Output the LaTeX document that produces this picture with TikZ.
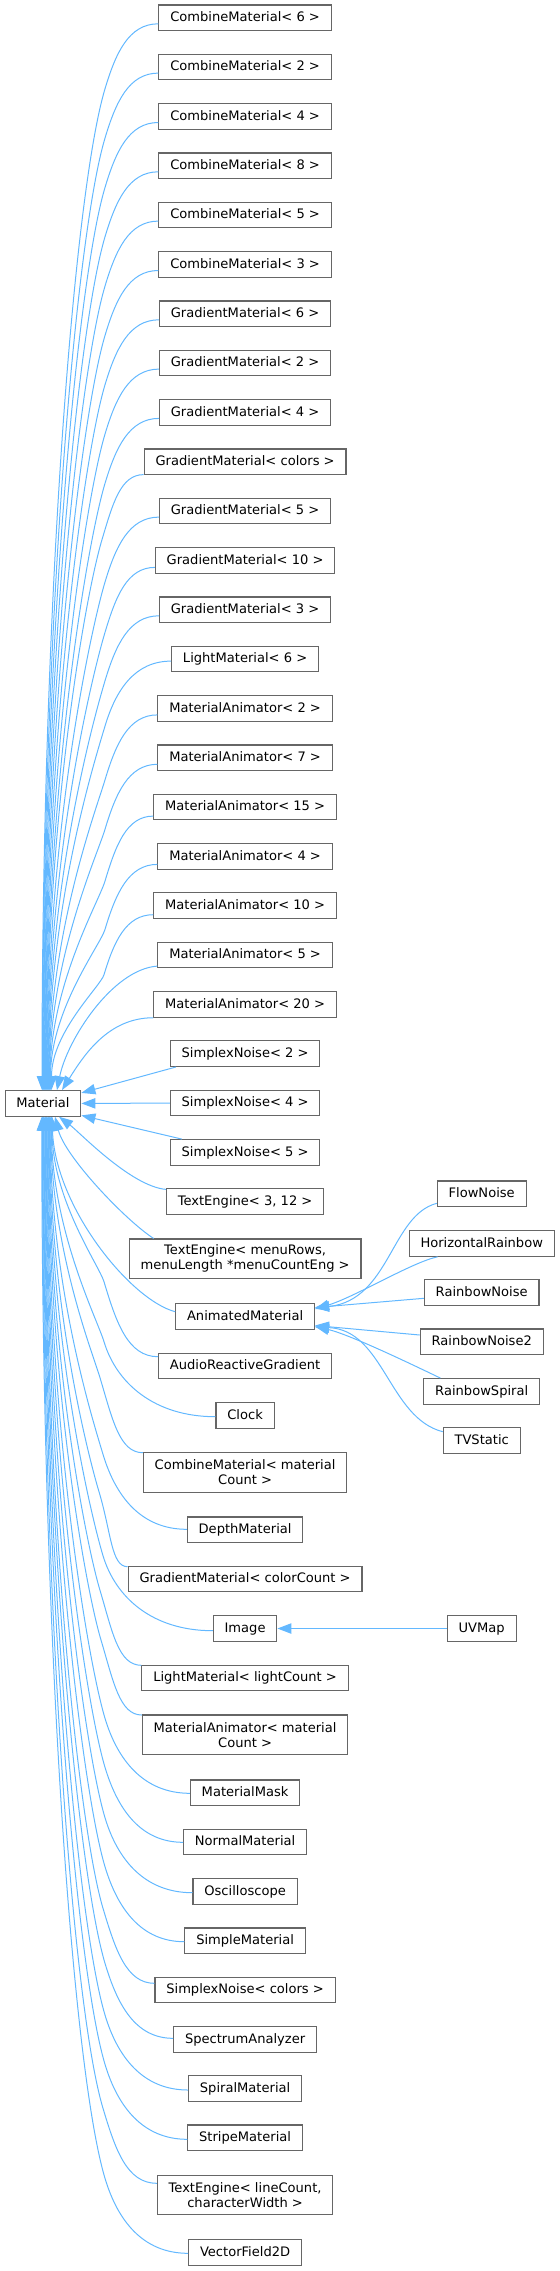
\documentclass[tikz,border=0pt]{standalone}
\usepackage{fontspec}
\newfontfamily\dejavu{DejaVu Sans}
\usetikzlibrary{arrows.meta,calc}
\definecolor{edgeblue}{HTML}{63B8FF}
\definecolor{boxgray}{HTML}{666666}
\tikzset{
  cls/.style={draw=boxgray, fill=white, line width=0.8pt, font={\dejavu\fontsize{9.8pt}{11.25pt}\selectfont},
    inner xsep=8.5pt, inner ysep=0pt, minimum height=19.2pt, text height=7.4pt, text depth=1.9pt},
  clstwo/.style={draw=boxgray, fill=white, line width=0.8pt, font={\dejavu\fontsize{9.8pt}{11.25pt}\selectfont},
    inner xsep=8.5pt, inner ysep=0pt, minimum height=29.7pt, align=center},
  edge/.style={draw=edgeblue, line width=0.75pt, {Triangle[length=10.5pt,width=7.8pt,fill=edgeblue]}-}
}
% #1 child, #2 tip x, #3 attach dy, #4 child left x, #5 attach y, #6 turn height, #7 trunk x
\newcommand\upedge[7]{%
  \pgfmathsetmacro\eRx{#4-#7}%
  \pgfmathsetmacro\eVy{#5+#6}%
  \pgfmathsetmacro\eL{1090.6-\eVy}%
  \pgfmathsetmacro\eK{0.1*\eL}%
  \pgfmathsetmacro\ePk{0.3*\eK}%
  \pgfmathsetmacro\eM{0.5*\eL}%
  \pgfmathsetmacro\eCx{0.55*\eRx}%
  \pgfmathsetmacro\eCy{0.55*#6}%
  \pgfmathsetmacro\ePc{0.3*\eCy}%
  \draw[edge] ($(mat.north)+(#2-43,0)$) .. controls +(0,-\eM) and +(-\ePk,\eK) .. (#7,\eVy)
    .. controls +(\ePc,-\eCy) and +(-\eCx,0) .. ($(#1.west)+(0,#3)$);
}
\newcommand\downedge[7]{%
  \pgfmathsetmacro\eRx{#4-#7}%
  \pgfmathsetmacro\eVy{#5-#6}%
  \pgfmathsetmacro\eL{\eVy-1116.2}%
  \pgfmathsetmacro\eK{0.1*\eL}%
  \pgfmathsetmacro\ePk{0.3*\eK}%
  \pgfmathsetmacro\eM{0.5*\eL}%
  \pgfmathsetmacro\eCx{0.55*\eRx}%
  \pgfmathsetmacro\eCy{0.55*#6}%
  \pgfmathsetmacro\ePc{0.3*\eCy}%
  \draw[edge] ($(mat.south)+(#2-43,0)$) .. controls +(0,\eM) and +(-\ePk,-\eK) .. (#7,\eVy)
    .. controls +(\ePc,\eCy) and +(-\eCx,0) .. ($(#1.west)+(0,#3)$);
}
\begin{document}
\begin{tikzpicture}[x=0.75pt,y=-0.75pt]
\useasboundingbox (0,0) rectangle (560,2271);
% main column
\node[cls] (cm6) at (245.1,17.8) {CombineMaterial< 6 >};
\node[cls] (cm2) at (245.1,67.1) {CombineMaterial< 2 >};
\node[cls] (cm4) at (245.1,116.5) {CombineMaterial< 4 >};
\node[cls] (cm8) at (245.1,165.8) {CombineMaterial< 8 >};
\node[cls] (cm5) at (245.1,215.1) {CombineMaterial< 5 >};
\node[cls] (cm3) at (245.1,264.5) {CombineMaterial< 3 >};
\node[cls] (gm6) at (245.1,313.8) {GradientMaterial< 6 >};
\node[cls] (gm2) at (245.1,363.1) {GradientMaterial< 2 >};
\node[cls] (gm4) at (245.1,412.4) {GradientMaterial< 4 >};
\node[cls] (gmc) at (245.1,461.8) {GradientMaterial< colors >};
\node[cls] (gm5) at (245.1,511.1) {GradientMaterial< 5 >};
\node[cls] (gm10) at (245.1,560.4) {GradientMaterial< 10 >};
\node[cls] (gm3) at (245.1,609.8) {GradientMaterial< 3 >};
\node[cls] (lm6) at (245.1,659.1) {LightMaterial< 6 >};
\node[cls] (ma2) at (245.1,708.4) {MaterialAnimator< 2 >};
\node[cls] (ma7) at (245.1,757.8) {MaterialAnimator< 7 >};
\node[cls] (ma15) at (245.1,807.1) {MaterialAnimator< 15 >};
\node[cls] (ma4) at (245.1,856.4) {MaterialAnimator< 4 >};
\node[cls] (ma10) at (245.1,905.7) {MaterialAnimator< 10 >};
\node[cls] (ma5) at (245.1,955.1) {MaterialAnimator< 5 >};
\node[cls] (ma20) at (245.1,1004.4) {MaterialAnimator< 20 >};
\node[cls] (sn2) at (245.1,1053.7) {SimplexNoise< 2 >};
\node[cls] (sn4) at (245.1,1103.1) {SimplexNoise< 4 >};
\node[cls] (sn5) at (245.1,1152.4) {SimplexNoise< 5 >};
\node[cls] (te312) at (245.1,1201.7) {TextEngine< 3, 12 >};
\node[clstwo] (temenu) at (245.1,1258.8) {TextEngine< menuRows,\\ menuLength *menuCountEng >};
\node[cls] (am) at (245.1,1316.5) {AnimatedMaterial};
\node[cls] (arg) at (245.1,1366.1) {AudioReactiveGradient};
\node[cls] (clock) at (245.1,1415.5) {Clock};
\node[clstwo] (cmmc) at (245.1,1472.5) {CombineMaterial< material\\Count >};
\node[cls] (depth) at (245.1,1529.8) {DepthMaterial};
\node[cls] (gmcc) at (245.1,1579.1) {GradientMaterial< colorCount >};
\node[cls] (img) at (245.1,1628.5) {Image};
\node[cls] (lmlc) at (245.1,1678.1) {LightMaterial< lightCount >};
\node[clstwo] (mamc) at (245.1,1734.8) {MaterialAnimator< material\\Count >};
\node[cls] (mmask) at (245.1,1792.8) {MaterialMask};
\node[cls] (normal) at (245.1,1842.1) {NormalMaterial};
\node[cls] (osc) at (245.1,1891.5) {Oscilloscope};
\node[cls] (simple) at (245.1,1940.8) {SimpleMaterial};
\node[cls] (snc) at (245.1,1990.1) {SimplexNoise< colors >};
\node[cls] (spectrum) at (245.1,2039.5) {SpectrumAnalyzer};
\node[cls] (spiral) at (245.1,2088.5) {SpiralMaterial};
\node[cls] (stripe) at (245.1,2137.8) {StripeMaterial};
\node[clstwo] (telc) at (245.1,2195.1) {TextEngine< lineCount,\\ characterWidth >};
\node[cls] (vf2d) at (245.1,2252.6) {VectorField2D};
% root
\node[cls] (mat) at (43,1103.4) {Material};
% right column
\node[cls] (fn) at (481.7,1193.8) {FlowNoise};
\node[cls] (hr) at (481.7,1243.5) {HorizontalRainbow};
\node[cls] (rn) at (481.7,1292.5) {RainbowNoise};
\node[cls] (rn2) at (481.7,1341.8) {RainbowNoise2};
\node[cls] (rs) at (481.7,1391.4) {RainbowSpiral};
\node[cls] (tvs) at (481.7,1440.5) {TVStatic};
\node[cls] (uv) at (481.7,1628.5) {UVMap};
% edges above Material
\upedge{cm6}{42}{6}{159}{23.8}{65}{105}
\upedge{cm2}{42.5}{6}{159}{73.1}{65}{105}
\upedge{cm4}{43}{6}{159}{122.5}{65}{105}
\upedge{cm8}{43.5}{6}{159}{171.8}{65}{105}
\upedge{cm5}{44}{6}{159}{221.1}{65}{105}
\upedge{cm3}{44.5}{6}{159}{270.5}{65}{105}
\upedge{gm6}{45}{6}{159.3}{319.8}{65}{105}
\upedge{gm2}{45.5}{6}{159.3}{369.1}{65}{105}
\upedge{gm4}{46}{6}{159.3}{418.4}{65}{105}
\upedge{gmc}{46.5}{12.8}{144.3}{474.6}{65}{102}
\upedge{gm5}{47}{6}{159.3}{517.1}{65}{105}
\upedge{gm10}{47.5}{7}{155.7}{567.4}{65}{105}
\upedge{gm3}{48}{6}{159.3}{615.8}{65}{105}
\upedge{lm6}{48.5}{2}{171.7}{661.1}{65}{105}
\upedge{ma2}{49}{6.5}{157.7}{714.9}{65}{105}
\upedge{ma7}{49.5}{6.5}{157.7}{764.3}{65}{105}
\upedge{ma15}{50}{9}{153.7}{816.1}{65}{105}
\upedge{ma4}{50.5}{8}{157.7}{864.4}{65}{105}
\upedge{ma10}{51.5}{9}{153.7}{914.7}{60}{104}
\draw[edge] ($(mat.north)+(14,0)$) .. controls +(10,-50) and +(-45,3) .. ($(ma5.west)+(0,11)$);
\draw[edge] ($(mat.north)+(19,0)$) .. controls +(22,-35) and +(-45,0) .. (ma20.south west);
% edges to the right of Material
\draw[edge] ($(mat.east)+(0,-10.5)$) -- ($(sn2.south west)+(6,0)$);
\draw[edge] (mat.east) -- (sn4.west);
\draw[edge] ($(mat.east)+(0,12)$) -- ($(sn5.north west)+(12,0)$);
\draw[edge] ($(mat.south)+(16,0)$) .. controls +(20,15) and +(-35,-3) .. ($(te312.north west)+(0,1)$);
\draw[edge] ($(mat.south)+(12,0)$) .. controls +(10,40) and +(-28,-18) .. ($(temenu.north west)+(25,0)$);
\draw[edge] ($(mat.south)+(9,0)$) .. controls +(3,90) and +(-45,-12) .. ($(am.west)+(0,-4.8)$);
% edges below Material
\downedge{arg}{52}{-9.4}{159}{1356.7}{75}{104}
\downedge{clock}{51.4}{1.2}{215.3}{1416.7}{75}{104}
\downedge{cmmc}{50.8}{-19.8}{142.7}{1452.7}{75}{100}
\downedge{depth}{50.2}{-0.5}{187.3}{1529.3}{75}{103}
\downedge{gmcc}{49.6}{-12.4}{129}{1566.7}{75}{99}
\downedge{img}{49}{2.2}{213.7}{1630.7}{75}{103}
\downedge{lmlc}{48.4}{-12.8}{142.3}{1665.3}{75}{100}
\downedge{mamc}{47.8}{-19.8}{141.7}{1715}{75}{101}
\downedge{mmask}{47.2}{0.5}{189.7}{1793.3}{75}{105}
\downedge{normal}{46.6}{0.2}{183}{1842.3}{75}{105}
\downedge{osc}{46}{1.2}{193}{1892.7}{75}{105}
\downedge{simple}{45.4}{0.9}{184.3}{1941.7}{75}{105}
\downedge{snc}{44.8}{-6.8}{154.3}{1983.3}{75}{103}
\downedge{spectrum}{44.2}{-1.2}{174.3}{2038.3}{75}{105}
\downedge{spiral}{43.6}{1.5}{188.3}{2090}{75}{105}
\downedge{stripe}{43}{1.5}{187.3}{2139.3}{75}{105}
\downedge{telc}{42.4}{-11.8}{157.7}{2183.3}{75}{103}
\downedge{vf2d}{41.8}{0.7}{188.7}{2253.3}{75}{105}
% AnimatedMaterial children
\draw[edge] ($(am.east)+(0,-8.5)$) .. controls +(75,-8) and +(-46,12) .. ($(fn.west)+(0,9.5)$);
\draw[edge] ($(am.east)+(0,-7.5)$) .. controls +(40,-12) and +(-25,5) .. ($(hr.south west)+(29,0)$);
\draw[edge] ($(am.east)+(0,-9)$) -- ($(rn.west)+(0,5.8)$);
\draw[edge] ($(am.east)+(0,9)$) -- ($(rn2.west)+(0,-6.8)$);
\draw[edge] ($(am.east)+(0,10)$) .. controls +(35,8) and +(-25,-12) .. ($(rs.north west)+(17,0)$);
\draw[edge] ($(am.east)+(0,10.5)$) .. controls +(69,3) and +(-54,-14) .. ($(tvs.west)+(0,-8.8)$);
% Image child
\draw[edge] (img.east) -- (uv.west);
\end{tikzpicture}
\end{document}
